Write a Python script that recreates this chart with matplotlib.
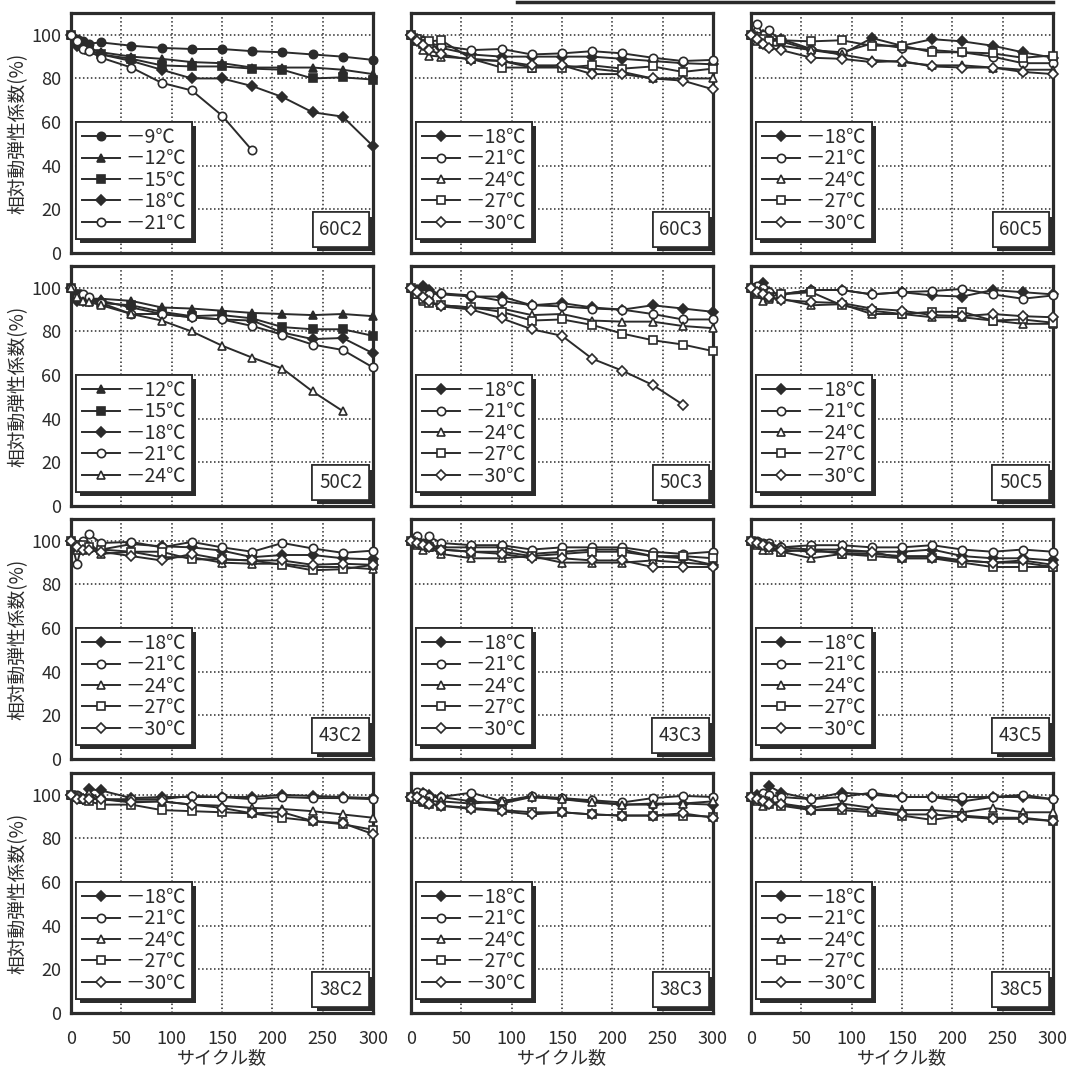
import numpy as np
import matplotlib
matplotlib.use("Agg")
import matplotlib.pyplot as plt
from matplotlib import patheffects
from matplotlib.lines import Line2D

plt.rcParams['font.family'] = ['Noto Sans CJK JP', 'DejaVu Sans']

INK = '#2b2b2b'

# freeze-thaw cycles at which the dynamic modulus was measured
cycles = [0, 6, 12, 18, 30, 60, 90, 120, 150, 180, 210, 240, 270, 300]

# relative dynamic modulus of elasticity (%) per specimen, keyed by minimum temperature
p60c2 = {
    '-9':  [100, 98, 97, 96, 96.5, 95, 94, 93.5, 93.5, 92.5, 92, 91, 90, 88.5],
    '-12': [100, 97, 95, 94, 92, 90, 89, 87.5, 87, 85, 85, 85, 84, 82],
    '-15': [100, 97, 95, 93, 91, 89, 86, 85.5, 85.5, 84.5, 84, 80, 80.5, 79.5],
    '-18': [100, 95, 94, 93, 91, 88, 84, 80, 80, 76.5, 71.5, 64.5, 62.5, 49],
    '-21': [100, 97, 93.5, 92.5, 89.5, 85, 78, 74.5, 63, 47],
}
p60c3 = {
    '-18': [100, 98, 97, 95, 94, 91, 90, 90, 90, 90, 89, 88, 87, 86.5],
    '-21': [100, 98, 97, 96, 95, 93, 93.5, 91, 91.5, 92.5, 91.5, 89.5, 88, 88.5],
    '-24': [100, 97, 93, 90.5, 90, 89, 88, 85, 86, 84.5, 83, 80, 80, 80],
    '-27': [100, 98, 96, 97, 97.5, 89, 85, 85, 85, 86, 84.5, 85.5, 83, 84.5],
    '-30': [100, 97, 95.5, 93, 91, 88.5, 88, 86, 86, 82, 82, 80, 79, 75],
}
p60c5 = {
    '-18': [100, 99, 100, 98, 98, 93.5, 91, 98.5, 95, 98, 97, 95, 92, 89.5],
    '-21': [100, 105, 100, 102, 97, 93, 92, 96, 94, 93, 92, 90, 87, 87],
    '-24': [100, 97, 96, 95, 95, 93, 91, 88.5, 87.5, 86, 86, 85, 84, 84],
    '-27': [100, 99, 98, 97, 97.5, 97, 97.5, 95, 95, 92, 92, 91.5, 89.5, 90.5],
    '-30': [100, 98, 96, 94, 93, 89.5, 89, 87.5, 88, 85.5, 85, 85, 83, 82],
}
p50c2 = {
    '-12': [100, 97, 96, 95, 95, 94, 91, 90.5, 89.5, 88.5, 88, 87.5, 88, 87],
    '-15': [100, 97, 95, 94, 93, 92, 89, 87, 87.5, 86, 82, 81, 81, 78],
    '-18': [100, 94, 94, 94, 94, 91, 88, 86.5, 85.5, 85, 79.5, 76.5, 77, 70],
    '-21': [100, 96, 97, 96, 93, 88, 88, 86.5, 85.5, 82.5, 78.5, 74, 71.5, 63.5],
    '-24': [100, 96, 94, 93.5, 92, 88, 85, 80, 73.5, 68, 63, 52.5, 43.5],
}
p50c3 = {
    '-18': [100, 99, 101, 99, 97, 96, 96, 92, 93, 91, 90, 92, 90.5, 89],
    '-21': [100, 98, 97, 97, 97.5, 96.5, 94, 92, 91.5, 90.5, 90, 88, 85.5, 85.5],
    '-24': [100, 97, 94, 93.5, 92, 91, 90.5, 87.5, 88, 85, 84.5, 84.5, 82.5, 81.5],
    '-27': [100, 97, 95, 93, 92, 91, 89, 85, 85.5, 83, 79, 76, 74, 71],
    '-30': [100, 98, 96, 94, 91.5, 90, 86, 81, 78, 67.5, 62, 55.5, 46.5],
}
p50c5 = {
    '-18': [100, 100, 102, 98, 97, 99, 99, 97, 98, 96.5, 96, 99, 98, 97],
    '-21': [100, 101, 100, 98, 97, 99, 99, 97, 98, 98.5, 99.5, 97, 95, 96.5],
    '-24': [100, 97, 94, 95, 95, 92, 92.5, 88, 88, 86.5, 86.5, 85, 83.5, 83.5],
    '-27': [100, 98, 97, 96, 97, 98, 92, 89.5, 88, 89, 89, 85, 85.5, 84],
    '-30': [100, 98, 97, 96, 94.5, 93.5, 93, 90.5, 89.5, 87.5, 87, 88, 87, 86.5],
}
p43c2 = {
    '-18': [100, 97, 97, 97, 96, 98.5, 97.5, 97, 95.5, 92.5, 93.5, 93.5, 92, 91.5],
    '-21': [100, 89.5, 100, 103, 99, 99.5, 97, 99.5, 97, 95, 99, 96.5, 94.5, 95.5],
    '-24': [100, 96, 96, 96.5, 94, 95, 92.5, 92.5, 90, 89.5, 89.5, 88, 88, 87],
    '-27': [100, 98, 98, 97, 96, 95, 95, 91.5, 91.5, 91, 89, 86.5, 87, 89],
    '-30': [100, 97, 96, 96, 95, 93, 91, 94, 91.5, 91, 91, 89, 89.5, 89],
}
p43c3 = {
    '-18': [100, 99, 98, 98, 97, 97, 97, 94, 95, 96, 96, 93, 92, 89],
    '-21': [100, 102, 99, 102, 99, 98, 98, 96, 97, 97, 97, 95, 94, 95],
    '-24': [100, 98, 96, 97, 94, 92, 92, 93, 90, 90, 90, 91, 90, 89],
    '-27': [100, 99, 98, 97, 96, 95, 95, 93, 94, 95, 95, 93, 93, 92],
    '-30': [100, 99, 98, 97, 96, 95, 94, 92, 92, 91, 91, 88, 88, 88],
}
p43c5 = {
    '-18': [100, 99, 98, 98, 97, 96, 96, 95, 95, 96, 93, 92, 92, 91],
    '-21': [100, 100, 99, 99, 97, 98, 98, 97, 97, 98, 96, 95, 96, 95],
    '-24': [100, 98, 96, 96, 95, 92, 94, 94, 93, 93, 91, 90, 90, 88],
    '-27': [100, 99, 98, 97, 95, 96, 94, 93, 92, 92, 90, 88, 88, 88],
    '-30': [100, 99, 98, 97, 96, 95, 95, 95, 92, 92, 91, 90, 91, 89],
}
p38c2 = {
    '-18': [100, 99, 98, 102.5, 102, 98.5, 99, 99, 99, 99, 100, 99.5, 99, 98.5],
    '-21': [100, 100, 98, 99, 98, 98, 98, 99.5, 99, 98, 99, 98.5, 98.5, 98],
    '-24': [100, 99, 98, 101, 98, 97, 97, 95.5, 95, 94, 93.5, 92.5, 91, 89.5],
    '-27': [100, 99, 98, 97, 95.5, 95.5, 93, 92.5, 92, 91.5, 89.5, 88, 86.5, 84],
    '-30': [100, 98, 98, 98, 98, 96.5, 97, 95.5, 94, 91.5, 92, 88, 87, 82],
}
p38c3 = {
    '-18': [99, 99, 101, 100, 99, 97, 96, 99, 98, 97, 95.5, 95.5, 96, 95.5],
    '-21': [99, 101.5, 101, 99, 99, 101, 97, 99.5, 98.5, 97.5, 96.5, 98.5, 99.5, 99],
    '-24': [99, 98, 96.5, 97, 97, 96, 97, 99, 98, 96.5, 95.5, 96, 96, 97],
    '-27': [99, 98, 97, 96, 95, 94, 93, 92, 92, 91, 90.5, 90.5, 90.5, 90],
    '-30': [99, 99, 97, 96, 95, 93.5, 92.5, 91, 92, 91, 90.5, 90.5, 91.5, 89.5],
}
p38c5 = {
    '-18': [99, 100, 100, 104, 101, 98, 101, 100, 99, 99, 97, 99, 99, 98],
    '-21': [99, 99, 101, 100, 99, 98, 99, 101, 99, 99, 99, 99, 100, 98],
    '-24': [99, 97, 95, 97, 96, 94, 96, 94, 93, 93, 92, 94, 92, 92],
    '-27': [99, 98, 97, 96, 95, 93, 93, 92, 90.5, 88.5, 90.5, 89.5, 89.5, 88],
    '-30': [99, 98, 97, 96, 96, 93, 94, 93, 91, 91, 90, 89, 89, 88],
}

panels = [
    [('60C2', p60c2), ('60C3', p60c3), ('60C5', p60c5)],
    [('50C2', p50c2), ('50C3', p50c3), ('50C5', p50c5)],
    [('43C2', p43c2), ('43C3', p43c3), ('43C5', p43c5)],
    [('38C2', p38c2), ('38C3', p38c3), ('38C5', p38c5)],
]

# marker shape and fill for each temperature
styles = {
    '-9': ('o', True), '-12': ('^', True), '-15': ('s', True), '-18': ('D', True),
    '-21': ('o', False), '-24': ('^', False), '-27': ('s', False), '-30': ('D', False),
}

W, H = 1068, 1069
col_left = [71, 411, 751]
row_top = [13, 266, 519, 773]
ax_w, ax_h = 302, 240

fig = plt.figure(figsize=(W / 100, H / 100), dpi=100)

shadow = [patheffects.withSimplePatchShadow(offset=(3, -3), shadow_rgbFace=INK, alpha=1.0),
          patheffects.Normal()]

for r, row in enumerate(panels):
    for c, (name, series) in enumerate(row):
        ax = fig.add_axes([col_left[c] / W, 1 - (row_top[r] + ax_h) / H, ax_w / W, ax_h / H])
        for temp, vals in series.items():
            mk, filled = styles[temp]
            ms = 5.2 if mk == 'D' else 6.0
            ax.plot(cycles[:len(vals)], vals, color=INK, lw=1.4, marker=mk, ms=ms,
                    mec=INK, mew=1.2, mfc=INK if filled else 'white',
                    label='－' + temp[1:] + '℃', clip_on=False, zorder=3)

        ax.set_xlim(0, 300)
        ax.set_ylim(0, 110)
        ax.set_xticks(range(0, 301, 50))
        ax.set_yticks(range(0, 101, 20))
        ax.grid(True, color=INK, ls=(0, (1, 1.6)), lw=1.1)
        ax.tick_params(length=0, labelsize=13, colors=INK,
                       labelleft=(c == 0), labelbottom=(r == 3))
        ax.tick_params(axis='y', pad=7)
        ax.tick_params(axis='x', pad=12)
        for sp in ax.spines.values():
            sp.set_linewidth(2.3)
            sp.set_color(INK)

        leg = ax.legend(loc='lower left', bbox_to_anchor=(0.017, 0.058), borderaxespad=0,
                        fontsize=14, handlelength=2.0, handletextpad=0.25,
                        labelspacing=0.02, borderpad=0.28, fancybox=False,
                        framealpha=1, edgecolor=INK)
        leg.get_frame().set_linewidth(1.3)
        leg.get_frame().set_path_effects(shadow)
        for t in leg.get_texts():
            t.set_color(INK)

        tag = ax.text(0.893, 0.098, name, transform=ax.transAxes, ha='center', va='center',
                      fontsize=13.5, color=INK, zorder=6,
                      bbox=dict(boxstyle='square,pad=0.35', fc='white', ec=INK, lw=1.2))
        tag.get_bbox_patch().set_path_effects(shadow)

        if c == 0:
            fig.text(18 / W, 1 - (row_top[r] + ax_h / 2) / H, '相対動弾性係数(%)',
                     rotation=90, ha='center', va='center', fontsize=13.5, color=INK)
        if r == 3:
            ax.set_xlabel('サイクル数', fontsize=13, color=INK, labelpad=1)

# frame edge of the figure above
fig.add_artist(Line2D([517 / W, 1053 / W], [1 - 2 / H, 1 - 2 / H], color=INK, lw=2.5))

fig.savefig('out.png', dpi=100)
